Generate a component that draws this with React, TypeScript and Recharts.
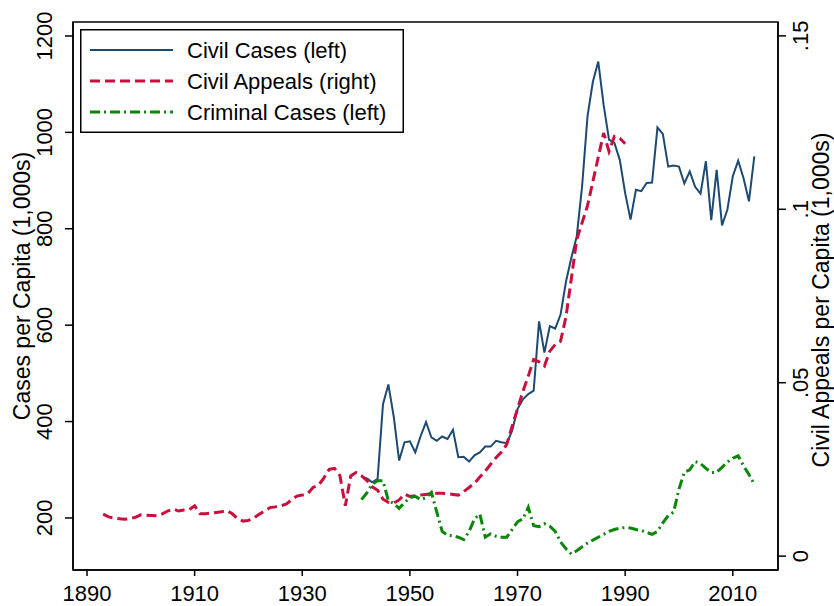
import React from 'react';
import { LineChart, Line, XAxis, YAxis, Legend, ReferenceArea } from 'recharts';

// Civil appeals per capita (right axis), one value a year from 1893
const APPEALS_START = 1893;
const appeals = [
  0.0121, 0.0113, 0.0110, 0.0108, 0.0106, 0.0108, 0.0112,
  0.0119, 0.0118, 0.0117, 0.0116, 0.0122, 0.0130, 0.0136, 0.0130, 0.0133, 0.0134,
  0.0145, 0.0122, 0.0122, 0.0124, 0.0126, 0.0128, 0.0131, 0.0122, 0.0108, 0.0101,
  0.0103, 0.0110, 0.0121, 0.0130, 0.0140, 0.0142, 0.0145, 0.0150, 0.0162, 0.0173,
  0.0176, 0.0180, 0.0198, 0.0204, 0.0225, 0.0250, 0.0253, 0.0232, 0.0145, 0.0231,
  0.0241, 0.0232, 0.0218, 0.0200, 0.0190, 0.0164, 0.0155, 0.0153, 0.0162, 0.0179,
  0.0172, 0.0174, 0.0176, 0.0178, 0.0180, 0.0181, 0.0181, 0.0180, 0.0178, 0.0176,
  0.0186, 0.0198, 0.0210, 0.0228, 0.0245, 0.0265, 0.0284, 0.0300, 0.0322, 0.0375,
  0.0425, 0.0475, 0.0519, 0.0567, 0.0560, 0.0548, 0.0591, 0.0610, 0.0620, 0.0690,
  0.0800, 0.0913, 0.0961, 0.1010, 0.1080, 0.1150, 0.1220, 0.1167, 0.1210, 0.1205,
  0.1189,
];

// civil and criminal cases per capita (left axis), from 1941
const CASES_START = 1941;
const civilCases = [
  286, 282, 274, 281, 436, 477, 410, 319, 357,
  359, 336, 370, 399, 367, 360, 369, 364, 383, 326,
  327, 317, 330, 336, 348, 348, 360, 357, 355, 381,
  426, 446, 457, 464, 608, 543, 598, 593, 622, 690,
  740, 784, 888, 1033, 1105, 1147, 1057, 985, 978, 943,
  874, 819, 881, 878, 895, 896, 1010, 997, 929, 931,
  929, 894, 919, 887, 873, 940, 818, 922, 807, 840,
  909, 941, 905, 857, 950,
];
const criminalCases = [
  238, 252, 270, 277, 277, 236, 230, 220, 232,
  242, 245, 238, 242, 253, 212, 172, 164, 163, 160,
  155, 172, 198, 208, 160, 167, 162, 160, 160, 176,
  192, 198, 222, 184, 182, 188, 183, 172, 150, 136,
  125, 132, 140, 148, 154, 160, 166, 172, 176, 179,
  180, 179, 176, 174, 170, 166, 172, 190, 205, 212,
  260, 295, 300, 317, 313, 303, 294, 295, 305, 316,
  324, 329, 308, 290, 270,
];

const yearTicks = [1890, 1910, 1930, 1950, 1970, 1990, 2010];
const leftTicks = [200, 400, 600, 800, 1000, 1200];
const rightTicks = [0, 0.05, 0.1, 0.15];

const X_DOMAIN: [number, number] = [1887.4, 2018.4];
const LEFT_DOMAIN: [number, number] = [92, 1229];
const RIGHT_DOMAIN: [number, number] = [-0.004, 0.154];

const SERIES = [
  { key: 'civil', name: 'Civil Cases (left)', axis: 'left', color: '#1d4a72', width: 2, dash: undefined },
  { key: 'appeals', name: 'Civil Appeals (right)', axis: 'right', color: '#c8103f', width: 3, dash: '10 5' },
  { key: 'criminal', name: 'Criminal Cases (left)', axis: 'left', color: '#0b860b', width: 3, dash: '10 4 2 4' },
];

const rows: any[] = [];
const rowFor = (year: number) => {
  let r = rows.find((d) => d.year === year);
  if (!r) {
    r = { year };
    rows.push(r);
  }
  return r;
};
appeals.forEach((v, i) => { rowFor(APPEALS_START + i).appeals = v; });
civilCases.forEach((v, i) => { rowFor(CASES_START + i).civil = v; });
criminalCases.forEach((v, i) => { rowFor(CASES_START + i).criminal = v; });
rows.sort((a, b) => a.year - b.year);

const FONT = '"Liberation Sans", Arial, Helvetica, sans-serif';

const fmtRight = (v: number) => (v === 0 ? '0' : String(v).replace(/^0/, ''));

const XTick = ({ x, y, payload }: any) => (
  <text x={x} y={y + 25} textAnchor="middle" fontSize={22} fill="#000" fontFamily={FONT}>
    {payload.value}
  </text>
);

const LeftTick = ({ x, y, payload }: any) => (
  <text x={x - 13} y={y} transform={`rotate(-90 ${x - 13} ${y})`} textAnchor="middle" fontSize={22} fill="#000" fontFamily={FONT}>
    {payload.value}
  </text>
);

const RightTick = ({ x, y, payload }: any) => (
  <text x={x + 22} y={y} transform={`rotate(-90 ${x + 22} ${y})`} textAnchor="middle" fontSize={22} fill="#000" fontFamily={FONT}>
    {fmtRight(payload.value)}
  </text>
);

const axisTitle = (text: string, dx: number, dy: number) => (props: any) => {
  const vb = props.viewBox;
  const cx = vb.x + dx;
  const cy = vb.y + vb.height / 2 + dy;
  return (
    <text x={cx} y={cy} transform={`rotate(-90 ${cx} ${cy})`} textAnchor="middle" fontSize={23} fill="#000" fontFamily={FONT}>
      {text}
    </text>
  );
};

const LegendBox = () => (
  <svg width={324} height={104} style={{ display: 'block' }}>
    <rect x={0.75} y={0.75} width={322.5} height={102.5} fill="#fff" stroke="#000" strokeWidth={1.5} />
    {SERIES.map((s, i) => {
      const cy = 21 + i * 31;
      return (
        <g key={s.key}>
          <line x1={10} x2={93} y1={cy} y2={cy} stroke={s.color} strokeWidth={s.width} strokeDasharray={s.dash} />
          <text x={107} y={cy + 8} fontSize={22} fill="#000" fontFamily={FONT}>{s.name}</text>
        </g>
      );
    })}
  </svg>
);

export default function App() {
  return (
    <div style={{ position: 'absolute', left: 0, top: 0, width: 834, height: 606, background: '#fff', fontFamily: FONT }}>
      <LineChart width={834} height={606} data={rows} margin={{ top: 22, right: 6, bottom: 6, left: 13 }}>
        <XAxis
          dataKey="year"
          type="number"
          domain={X_DOMAIN}
          ticks={yearTicks}
          allowDataOverflow
          height={30}
          tick={<XTick />}
          tickSize={6}
          tickMargin={0}
          stroke="#000"
          strokeWidth={1.5}
          tickLine={{ stroke: '#000', strokeWidth: 1.5 }}
        />
        <YAxis
          yAxisId="left"
          domain={LEFT_DOMAIN}
          ticks={leftTicks}
          allowDataOverflow
          width={60}
          tick={<LeftTick />}
          tickSize={8}
          tickMargin={0}
          stroke="#000"
          strokeWidth={1.5}
          label={axisTitle('Cases per Capita (1,000s)', 17, -10)}
        />
        <YAxis
          yAxisId="right"
          orientation="right"
          domain={RIGHT_DOMAIN}
          ticks={rightTicks}
          allowDataOverflow
          width={50}
          tick={<RightTick />}
          tickSize={8}
          tickMargin={0}
          stroke="#000"
          strokeWidth={1.5}
          label={axisTitle('Civil Appeals per Capita (1,000s)', 51, 4)}
        />
        <ReferenceArea
          yAxisId="left"
          x1={X_DOMAIN[0]}
          x2={X_DOMAIN[1]}
          y1={LEFT_DOMAIN[0]}
          y2={LEFT_DOMAIN[1]}
          fill="none"
          stroke="#000"
          strokeWidth={1.5}
          ifOverflow="visible"
        />
        {SERIES.map((s) => (
          <Line
            key={s.key}
            yAxisId={s.axis}
            dataKey={s.key}
            name={s.name}
            stroke={s.color}
            strokeWidth={s.width}
            strokeDasharray={s.dash}
            dot={false}
            activeDot={false}
            type="linear"
            connectNulls={false}
            isAnimationActive={false}
          />
        ))}
        <Legend
          layout="vertical"
          align="center"
          verticalAlign="middle"
          content={() => <LegendBox />}
          wrapperStyle={{ position: 'absolute', left: 80, top: 29, width: 324, height: 104 }}
        />
      </LineChart>
    </div>
  );
}
